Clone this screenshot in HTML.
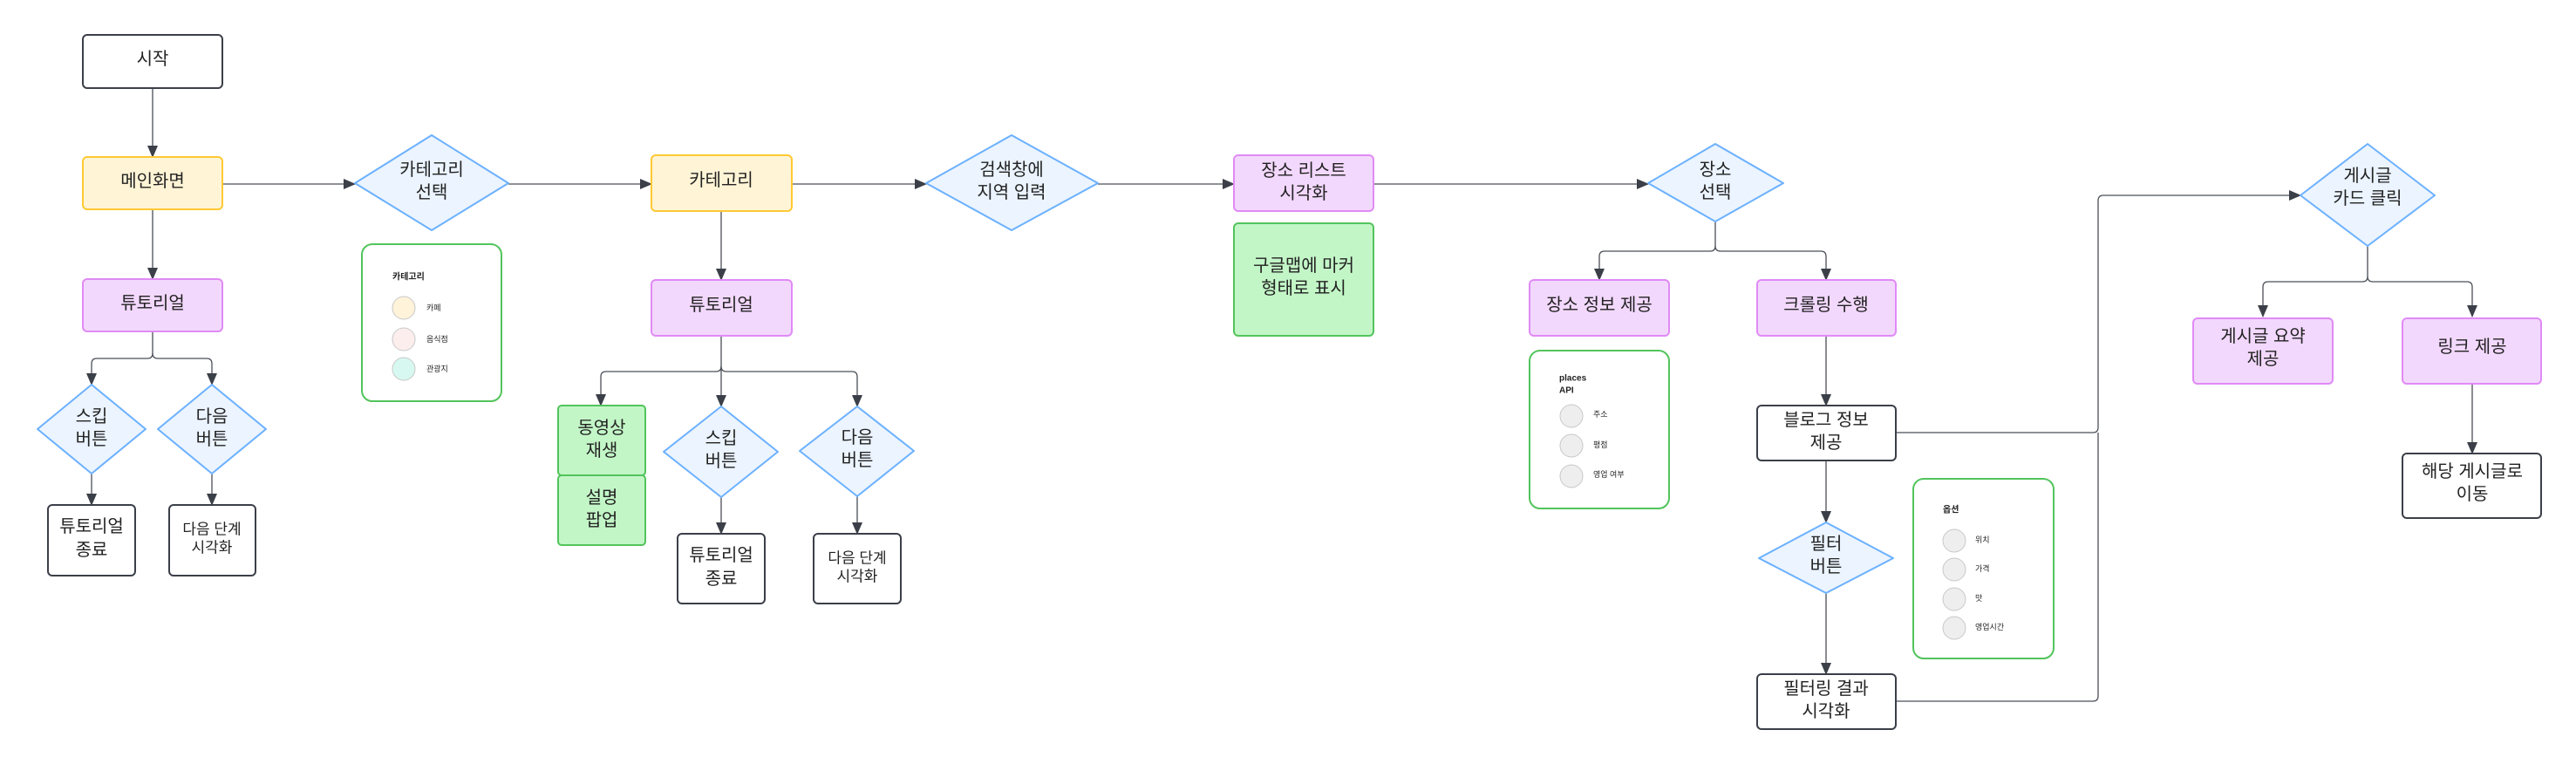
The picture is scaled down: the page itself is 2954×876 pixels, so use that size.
<!DOCTYPE html>
<html><head><meta charset="utf-8">
<style>
html,body{margin:0;padding:0;background:#fff;}
svg{display:block;}
text{font-family:"Liberation Sans","Noto Sans CJK KR",sans-serif;fill:#222;}
.t{font-size:20px;text-anchor:middle;dominant-baseline:central;}
.s{font-size:9px;dominant-baseline:central;}
.b{font-size:10px;font-weight:bold;dominant-baseline:central;}
.ln{fill:none;stroke:#4b4f58;stroke-width:1.3;}
.y{fill:#fff4d6;stroke:#ffc933;stroke-width:2;}
.p{fill:#f3d8fd;stroke:#e08af5;stroke-width:2;}
.g{fill:#c3f6c7;stroke:#52c45c;stroke-width:2;}
.w{fill:#fff;stroke:#3b3f48;stroke-width:2;}
.d{fill:#ebf4ff;stroke:#6cb1ff;stroke-width:2;stroke-linejoin:round;}
.lg{fill:#fff;stroke:#52c45c;stroke-width:2;}
.c{stroke:#c8c8c8;stroke-width:1;}
</style></head><body>
<svg width="2954" height="876" viewBox="0 0 2954 876" xmlns="http://www.w3.org/2000/svg">
<defs><marker id="a" markerUnits="userSpaceOnUse" markerWidth="14" markerHeight="12" refX="13" refY="6" orient="auto"><path d="M0,0 L14,6 L0,12 z" fill="#3b3f48"/></marker></defs>

<!-- connectors -->
<g class="ln" marker-end="url(#a)">
<path d="M175,101 V180"/>
<path d="M175,240 V320"/>
<path d="M255,211 H407"/>
<path d="M583,211 H747"/>
<path d="M908,211 H1062"/>
<path d="M1259,211 H1415"/>
<path d="M1575,211 H1890"/>
<path d="M827,242 V321"/>
<path d="M175,380 V405 Q175,411 169,411 H111 Q105,411 105,417 V441"/>
<path d="M175,405 Q175,411 181,411 H237 Q243,411 243,417 V441"/>
<path d="M105,543 V579"/>
<path d="M243,543 V579"/>
<path d="M827,385 V420 Q827,426 821,426 H695 Q689,426 689,432 V465"/>
<path d="M827,420 V466"/>
<path d="M827,420 Q827,426 833,426 H977 Q983,426 983,432 V466"/>
<path d="M827,570 V612"/>
<path d="M983,569 V612"/>
<path d="M1967,254 V282 Q1967,288 1961,288 H1840 Q1834,288 1834,294 V321"/>
<path d="M1967,282 Q1967,288 1973,288 H2088 Q2094,288 2094,294 V321"/>
<path d="M2094,385 V465"/>
<path d="M2094,528 V599"/>
<path d="M2094,680 V773"/>
<path d="M2174,496 H2400 Q2406,496 2406,490 V230 Q2406,224 2412,224 H2638"/>
<path d="M2715,282 V317 Q2715,323 2709,323 H2601 Q2595,323 2595,329 V363"/>
<path d="M2715,317 Q2715,323 2721,323 H2829 Q2835,323 2835,329 V363"/>
<path d="M2835,440 V520"/>
</g>
<path class="ln" d="M2174,804 H2400 Q2406,804 2406,798 V496"/>

<!-- nodes -->
<rect class="w" x="95" y="40" width="160" height="61" rx="5"/><text class="t" x="175" y="68">시작</text>
<rect class="y" x="95" y="180" width="160" height="60" rx="5"/><text class="t" x="175" y="208">메인화면</text>
<rect class="p" x="95" y="320" width="160" height="60" rx="5"/><text class="t" x="175" y="348">튜토리얼</text>
<polygon class="d" points="105,441 167,492 105,543 43,492"/><text class="t" x="105" y="478">스킵</text><text class="t" x="105" y="504">버튼</text>
<polygon class="d" points="243,441 305,492 243,543 181,492"/><text class="t" x="243" y="478">다음</text><text class="t" x="243" y="504">버튼</text>
<rect class="w" x="55" y="579" width="100" height="81" rx="5"/><text class="t" x="105" y="604">튜토리얼</text><text class="t" x="105" y="631">종료</text>
<rect class="w" x="194" y="579" width="99" height="81" rx="5"/><text class="t" x="243" y="607" style="font-size:17px">다음 단계</text><text class="t" x="243" y="628" style="font-size:17px">시각화</text>

<polygon class="d" points="495,155 583,210 495,264 407,210"/><text class="t" x="495" y="195">카테고리</text><text class="t" x="495" y="221">선택</text>
<rect class="lg" x="415" y="280" width="160" height="180" rx="12"/>
<text class="b" x="450" y="318">카테고리</text>
<circle class="c" cx="463" cy="353" r="13" fill="#fff3da"/><text class="s" x="489" y="353">카페</text>
<circle class="c" cx="463" cy="389" r="13" fill="#fdeeee"/><text class="s" x="489" y="389">음식점</text>
<circle class="c" cx="463" cy="423" r="13" fill="#d7f8f1"/><text class="s" x="489" y="423">관광지</text>

<rect class="y" x="747" y="178" width="161" height="64" rx="5"/><text class="t" x="827" y="207">카테고리</text>
<rect class="p" x="747" y="321" width="161" height="64" rx="5"/><text class="t" x="827" y="350">튜토리얼</text>
<rect class="g" x="640" y="465" width="100" height="80" rx="4"/><text class="t" x="690" y="491">동영상</text><text class="t" x="690" y="517">재생</text>
<rect class="g" x="640" y="545" width="100" height="80" rx="4"/><text class="t" x="690" y="571">설명</text><text class="t" x="690" y="597">팝업</text>
<polygon class="d" points="827,466 892,518 827,570 761,518"/><text class="t" x="827" y="503">스킵</text><text class="t" x="827" y="529">버튼</text>
<polygon class="d" points="983,466 1048,517 983,569 917,517"/><text class="t" x="983" y="502">다음</text><text class="t" x="983" y="528">버튼</text>
<rect class="w" x="777" y="612" width="100" height="80" rx="5"/><text class="t" x="827" y="637">튜토리얼</text><text class="t" x="827" y="664">종료</text>
<rect class="w" x="933" y="612" width="100" height="80" rx="5"/><text class="t" x="983" y="640" style="font-size:17px">다음 단계</text><text class="t" x="983" y="661" style="font-size:17px">시각화</text>

<polygon class="d" points="1160,155 1259,210 1160,264 1062,210"/><text class="t" x="1160" y="195">검색창에</text><text class="t" x="1160" y="221">지역 입력</text>
<rect class="p" x="1415" y="178" width="160" height="64" rx="5"/><text class="t" x="1495" y="196">장소 리스트</text><text class="t" x="1495" y="222">시각화</text>
<rect class="g" x="1415" y="256" width="160" height="129" rx="5"/><text class="t" x="1495" y="305">구글맵에 마커</text><text class="t" x="1495" y="331">형태로 표시</text>

<polygon class="d" points="1967,165 2045,210 1967,254 1890,210"/><text class="t" x="1967" y="195">장소</text><text class="t" x="1967" y="221">선택</text>
<rect class="p" x="1754" y="321" width="160" height="64" rx="5"/><text class="t" x="1834" y="350">장소 정보 제공</text>
<rect class="lg" x="1754" y="402" width="160" height="181" rx="12"/>
<text class="b" x="1788" y="434">places</text><text class="b" x="1788" y="448">API</text>
<circle class="c" cx="1802" cy="477" r="13" fill="#eeeeef"/><text class="s" x="1827" y="475">주소</text>
<circle class="c" cx="1802" cy="511" r="13" fill="#eeeeef"/><text class="s" x="1827" y="510">평점</text>
<circle class="c" cx="1802" cy="546" r="13" fill="#eeeeef"/><text class="s" x="1827" y="544">영업 여부</text>

<rect class="p" x="2015" y="321" width="159" height="64" rx="5"/><text class="t" x="2094" y="350">크롤링 수행</text>
<rect class="w" x="2015" y="465" width="159" height="63" rx="5"/><text class="t" x="2094" y="482">블로그 정보</text><text class="t" x="2094" y="508">제공</text>
<polygon class="d" points="2094,599 2171,640 2094,680 2017,640"/><text class="t" x="2094" y="624">필터</text><text class="t" x="2094" y="650">버튼</text>
<rect class="w" x="2015" y="773" width="159" height="63" rx="5"/><text class="t" x="2094" y="790">필터링 결과</text><text class="t" x="2094" y="816">시각화</text>
<rect class="lg" x="2194" y="549" width="161" height="206" rx="12"/>
<text class="b" x="2228" y="585">옵션</text>
<circle class="c" cx="2241" cy="620" r="13" fill="#eeeeef"/><text class="s" x="2265" y="619">위치</text>
<circle class="c" cx="2241" cy="653" r="13" fill="#eeeeef"/><text class="s" x="2265" y="652">가격</text>
<circle class="c" cx="2241" cy="687" r="13" fill="#eeeeef"/><text class="s" x="2265" y="686">맛</text>
<circle class="c" cx="2241" cy="720" r="13" fill="#eeeeef"/><text class="s" x="2265" y="719">영업시간</text>

<polygon class="d" points="2715,165 2792,224 2715,282 2638,224"/><text class="t" x="2715" y="202">게시글</text><text class="t" x="2715" y="228">카드 클릭</text>
<rect class="p" x="2515" y="365" width="160" height="75" rx="5"/><text class="t" x="2595" y="386">게시글 요약</text><text class="t" x="2595" y="412">제공</text>
<rect class="p" x="2755" y="365" width="159" height="75" rx="5"/><text class="t" x="2835" y="398">링크 제공</text>
<rect class="w" x="2755" y="520" width="159" height="74" rx="5"/><text class="t" x="2835" y="541">해당 게시글로</text><text class="t" x="2835" y="567">이동</text>
</svg>
</body></html>
